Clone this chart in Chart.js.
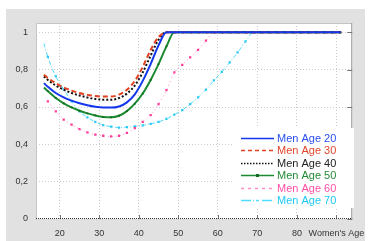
<!DOCTYPE html>
<html>
<head>
<meta charset="utf-8">
<script src="https://cdn.jsdelivr.net/npm/chart.js@4.4.1/dist/chart.umd.min.js"></script>
<style>
    html, body { margin: 0; padding: 0; background: #fff; }
    #wrap { position: relative; width: 374px; height: 241px; }
</style>
</head>
<body>
<div id="wrap"><canvas id="ageChart" width="374" height="241"></canvas></div>
<script>
// women's age: first sample at 16, then every odd year up to 91
const ages = [16, 17, 19, 21, 23, 25, 27, 29, 31, 33, 35, 37, 39, 41, 43, 45, 47, 49, 51, 53,
              55, 57, 59, 61, 63, 65, 67, 69, 71, 73, 75, 77, 79, 81, 83, 85, 87, 89, 91];

const men20 = [0.728, 0.708, 0.675, 0.652, 0.634, 0.620, 0.609, 0.601, 0.597, 0.597, 0.603, 0.625, 0.668, 0.740, 0.830, 0.930,
               1, 1, 1, 1, 1, 1, 1, 1, 1, 1, 1, 1, 1, 1, 1, 1, 1, 1, 1, 1, 1, 1, 1];
const men30 = [0.773, 0.755, 0.727, 0.705, 0.688, 0.675, 0.665, 0.659, 0.656, 0.656, 0.666, 0.692, 0.740, 0.815, 0.905, 0.975,
               1, 1, 1, 1, 1, 1, 1, 1, 1, 1, 1, 1, 1, 1, 1, 1, 1, 1, 1, 1, 1, 1, 1];
const men40 = [0.764, 0.745, 0.715, 0.693, 0.675, 0.662, 0.651, 0.643, 0.639, 0.639, 0.648, 0.672, 0.715, 0.785, 0.875, 0.960,
               1, 1, 1, 1, 1, 1, 1, 1, 1, 1, 1, 1, 1, 1, 1, 1, 1, 1, 1, 1, 1, 1, 1];
const men50 = [0.705, 0.685, 0.648, 0.620, 0.598, 0.580, 0.566, 0.555, 0.547, 0.545, 0.553, 0.578, 0.618, 0.672, 0.745, 0.830, 0.925,
               1, 1, 1, 1, 1, 1, 1, 1, 1, 1, 1, 1, 1, 1, 1, 1, 1, 1, 1, 1, 1, 1];
const men60 = [null, 0.630, 0.576, 0.532, 0.505, 0.482, 0.464, 0.452, 0.446, 0.442, 0.446, 0.461, 0.487, 0.520, 0.557, 0.616,
               0.690, 0.785, 0.826, 0.866, 0.906, 0.956,
               1, 1, 1, 1, 1, 1, 1, 1, 1, 1, 1, 1, 1, 1, 1, 1, 1];
const men70 = [0.940, 0.868, 0.764, 0.695, 0.630, 0.576, 0.545, 0.520, 0.503, 0.495, 0.490, 0.492, 0.496, 0.501, 0.510, 0.520,
               0.536, 0.559, 0.583, 0.616, 0.651, 0.693, 0.742, 0.788, 0.839, 0.892, 0.951,
               1, 1, 1, 1, 1, 1, 1, 1, 1, 1, 1, 1];

const seriesLabels = ['Men Age 20', 'Men Age 30', 'Men Age 40', 'Men Age 50', 'Men Age 60', 'Men Age 70'];
const xTicks = [20, 30, 40, 50, 60, 70, 80, 90];
const yTicks = [0, 0.2, 0.4, 0.6, 0.8, 1];

function toPoints(values) {
    return ages.map((a, i) => ({ x: a, y: values[i] }));
}

// skip the marker on the first (age 16) sample
function markerRadius(r) {
    return ctx => ctx.dataIndex === 0 ? 0 : r;
}

const panelPlugin = {
    id: 'panel',
    beforeDraw(chart) {
        const ctx = chart.ctx;
        const a = chart.chartArea;
        ctx.save();
        ctx.fillStyle = '#e1e1e1';
        ctx.fillRect(6, 9, 359, 232);
        ctx.fillStyle = '#ffffff';
        ctx.fillRect(a.left, a.top, a.right - a.left, a.bottom - a.top);
        ctx.restore();
    },
    beforeDatasetsDraw(chart) {
        const ctx = chart.ctx;
        const a = chart.chartArea;
        ctx.save();
        ctx.lineWidth = 1;
        ctx.strokeStyle = '#c4c4c4';
        ctx.beginPath();
        ctx.moveTo(a.left + 0.5, a.bottom);
        ctx.lineTo(a.left + 0.5, a.top + 0.5);
        ctx.lineTo(a.right, a.top + 0.5);
        ctx.stroke();
        ctx.strokeStyle = '#9a9a9a';
        ctx.beginPath();
        ctx.moveTo(a.right - 0.5, a.top);
        ctx.lineTo(a.right - 0.5, a.bottom);
        ctx.stroke();
        // inner tick marks, right side and bottom
        const y = chart.scales.y;
        const x = chart.scales.x;
        ctx.strokeStyle = '#777';
        yTicks.forEach(v => {
            const py = Math.round(y.getPixelForValue(v)) + 0.5;
            ctx.beginPath();
            ctx.moveTo(a.right - 5, py);
            ctx.lineTo(a.right, py);
            ctx.stroke();
        });
        xTicks.forEach(v => {
            const px = Math.round(x.getPixelForValue(v)) + 0.5;
            ctx.beginPath();
            ctx.moveTo(px, a.bottom - 4);
            ctx.lineTo(px, a.bottom);
            ctx.stroke();
        });
        ctx.strokeStyle = '#333';
        ctx.setLineDash([1, 1]);
        ctx.beginPath();
        ctx.moveTo(a.left, a.bottom - 0.5);
        ctx.lineTo(a.right, a.bottom - 0.5);
        ctx.stroke();
        ctx.restore();
    }
};

const legendPlugin = {
    id: 'boxLegend',
    afterDatasetsDraw(chart) {
        const ctx = chart.ctx;
        ctx.save();
        ctx.fillStyle = '#ffffff';
        ctx.fillRect(232, 128, 122, 80);
        ctx.font = '11px "Liberation Sans", Arial, sans-serif';
        ctx.textBaseline = 'middle';
        chart.data.datasets.forEach((ds, i) => {
            const yy = Math.round(138 + i * 12.4) + 0.5;
            ctx.strokeStyle = ds.borderColor;
            ctx.lineWidth = ds.legendWidth;
            ctx.setLineDash(ds.legendDash);
            ctx.beginPath();
            ctx.moveTo(241, yy);
            ctx.lineTo(274, yy);
            ctx.stroke();
            if (ds.legendMarker) {
                ctx.fillStyle = ds.pointBackgroundColor;
                ctx.fillRect(256, yy - 1.5, 3, 3);
            }
            ctx.setLineDash([]);
            ctx.fillStyle = ds.textColor;
            ctx.fillText(ds.label, 277, yy);
        });
        ctx.restore();
    }
};

const ctxAge = document.getElementById('ageChart').getContext('2d');
const ageChart = new Chart(ctxAge, {
    type: 'line',
    data: {
        datasets: [
            {
                label: seriesLabels[0], data: toPoints(men20),
                borderColor: '#1437ee', borderWidth: 2, pointRadius: 0,
                textColor: '#2a4ff2', legendDash: [], legendWidth: 1.5
            },
            {
                label: seriesLabels[1], data: toPoints(men30),
                borderColor: '#e2401f', borderWidth: 2, borderDash: [5, 3], pointRadius: 0,
                textColor: '#e2452a', legendDash: [4, 3], legendWidth: 1.5
            },
            {
                label: seriesLabels[2], data: toPoints(men40),
                borderColor: '#111111', borderWidth: 2, borderDash: [2, 2], pointRadius: 0,
                textColor: '#222222', legendDash: [1.5, 1.5], legendWidth: 1.5
            },
            {
                label: seriesLabels[3], data: toPoints(men50),
                borderColor: '#1c8a30', borderWidth: 2, pointStyle: 'rect',
                pointRadius: markerRadius(1.3), pointBackgroundColor: '#146b24', pointBorderWidth: 0,
                textColor: '#228a36', legendDash: [], legendWidth: 1.5, legendMarker: true
            },
            {
                label: seriesLabels[4], data: toPoints(men60),
                borderColor: '#ff8fc4', borderWidth: 1, borderDash: [1, 3], pointStyle: 'rect',
                pointRadius: markerRadius(1.6), pointBackgroundColor: '#ff3d98', pointBorderWidth: 0,
                textColor: '#ff4fa6', legendDash: [3, 4], legendWidth: 1.5
            },
            {
                label: seriesLabels[5], data: toPoints(men70),
                borderColor: '#4fdcff', borderWidth: 1, borderDash: [4, 2, 1, 2], pointStyle: 'rect',
                pointRadius: markerRadius(1.6), pointBackgroundColor: '#2ec9f5', pointBorderWidth: 0,
                textColor: '#1ec8f5', legendDash: [10, 2, 1, 2, 3, 3], legendWidth: 1.5
            }
        ]
    },
    options: {
        responsive: false,
        animation: false,
        devicePixelRatio: 1,
        layout: { padding: { left: 0, top: 23, right: 16, bottom: 0 } },
        elements: { line: { cubicInterpolationMode: 'monotone' } },
        plugins: {
            legend: { display: false },
            tooltip: { enabled: false }
        },
        scales: {
            x: {
                type: 'linear',
                min: 14,
                max: 94,
                afterFit: s => { s.height = 22; },
                afterBuildTicks: s => { s.ticks = xTicks.map(v => ({ value: v })); },
                grid: { color: '#cccccc', drawTicks: false },
                border: { display: false, dash: [1, 2] },
                ticks: {
                    padding: 9,
                    maxRotation: 0,
                    autoSkip: false,
                    color: '#333',
                    font: { family: '"Liberation Sans", Arial, sans-serif', size: 9 },
                    callback: v => v === 90 ? "Women's Age" : String(v)
                }
            },
            y: {
                min: 0,
                max: 1.05,
                afterFit: s => { s.width = 36; },
                afterBuildTicks: s => { s.ticks = yTicks.map(v => ({ value: v })); },
                grid: { color: '#cccccc', drawTicks: false },
                border: { display: false, dash: [1, 2] },
                ticks: {
                    padding: 8,
                    color: '#333',
                    font: { family: '"Liberation Sans", Arial, sans-serif', size: 9 },
                    callback: v => String(Math.round(v * 10) / 10).replace('.', ',')
                }
            }
        }
    },
    plugins: [panelPlugin, legendPlugin]
});
</script>
</body>
</html>
